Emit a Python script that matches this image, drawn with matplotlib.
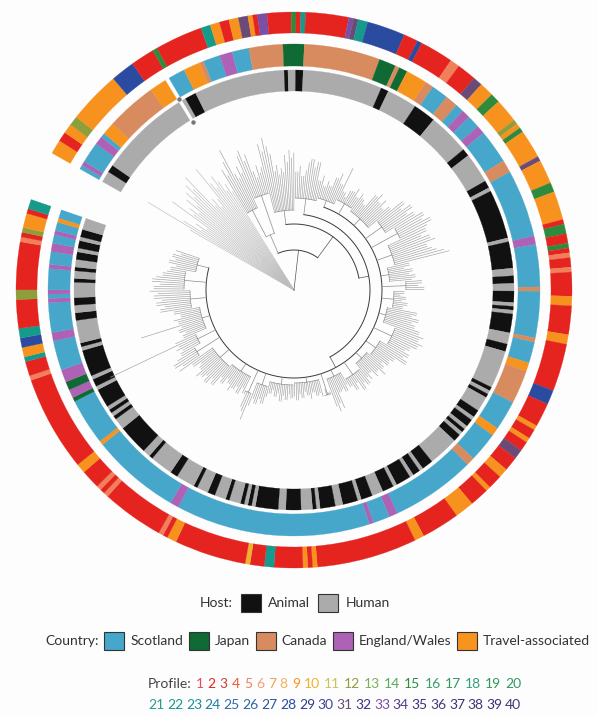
import numpy as np
import matplotlib
matplotlib.use("Agg")
import matplotlib.pyplot as plt
from matplotlib.patches import Wedge, Rectangle

# ---- ring data: runs of (value, number of leaves), read clockwise
# starting at the upper-left end of the gap in the rings
profile_runs = [(9,3),(2,2),(9,2),(12,2),(9,11),(28,5),(2,5),(15,1),(2,10),(22,2),
    (9,2),(2,2),(9,2),(31,2),(9,1),(2,1),(33,2),(2,5),(15,1),(2,1),(22,1),(2,9),
    (33,1),(31,1),(22,2),(28,8),(2,3),(28,1),(2,7),(5,2),(2,4),(31,2),(9,3),(15,2),
    (9,5),(12,1),(9,1),(15,1),(9,6),(31,1),(9,5),(15,2),(9,6),(2,1),(15,2),(2,2),
    (15,1),(2,1),(5,1),(2,2),(5,1),(2,5),(9,2),(2,6),(9,2),(2,10),(28,3),(2,5),
    (9,1),(2,2),(9,1),(2,2),(31,2),(2,3),(9,2),(2,3),(9,1),(2,4),(9,4),(2,8),(9,2),
    (2,21),(9,1),(2,1),(9,1),(2,6),(22,2),(2,3),(10,1),(2,15),(9,2),(2,1),(5,1),
    (2,13),(5,1),(2,1),(5,1),(2,4),(9,2),(2,20),(5,1),(2,3),(22,1),(9,2),(28,2),
    (22,2),(2,6),(12,2),(2,10),(5,1),(2,1),(12,1),(9,3),(2,1),(22,2)]

country_runs = [("S",1),("E",1),("S",5),("E",2),("S",1),("T",3),("C",12),("T",4),
    ("X",1),("S",4),("T",4),("C",1),("S",4),("E",3),("S",4),("C",8),("J",5),("C",18),
    ("J",4),("C",1),("J",2),("T",5),("C",2),("S",4),("C",3),("S",2),("E",2),("S",3),
    ("E",2),("S",8),("C",3),("S",16),("E",2),("S",10),("C",1),("S",11),("C",1),("S",5),
    ("T",2),("C",8),("S",7),("T",2),("S",7),("C",2),("S",20),("E",2),("S",4),("E",1),
    ("S",46),("E",2),("S",21),("T",1),("S",11),("J",1),("E",2),("J",2),("E",3),("S",7),
    ("E",2),("S",7),("E",1),("S",1),("E",1),("S",5),("E",1),("S",3),("E",2),("S",2),
    ("E",1),("S",2),("T",1),("S",2)]

host_runs = [("H",3),("A",2),("H",24),("X",1),("H",1),("A",3),("H",24),("A",1),("H",2),
    ("A",2),("H",21),("A",2),("H",8),("A",6),("H",11),("A",2),("H",8),("A",2),("H",1),
    ("A",13),("H",1),("A",7),("H",2),("A",2),("H",2),("A",3),("H",1),("A",1),("H",1),
    ("A",5),("H",3),("A",2),("H",10),("A",1),("H",1),("A",1),("H",4),("A",2),("H",1),
    ("A",2),("H",1),("A",1),("H",1),("A",2),("H",8),("A",3),("H",1),("A",2),("H",1),
    ("A",4),("H",1),("A",3),("H",3),("A",3),("H",1),("A",4),("H",2),("A",4),("H",1),
    ("A",1),("H",3),("A",4),("H",2),("A",6),("H",1),("A",1),("H",1),("A",1),("H",3),
    ("A",1),("H",3),("A",2),("H",3),("A",1),("H",5),("A",2),("H",6),("A",1),("H",2),
    ("A",8),("H",3),("A",1),("H",1),("A",1),("H",1),("A",5),("H",1),("A",2),("H",1),
    ("A",7),("H",1),("A",1),("H",6),("A",2),("H",2),("A",2),("H",4),("A",1),("H",2),
    ("A",1),("H",2),("A",2),("H",1),("A",2),("H",1),("A",2),("H",3)]

host_names = {"A": "Animal", "H": "Human"}
country_names = {"S": "Scotland", "J": "Japan", "C": "Canada",
                 "E": "England/Wales", "T": "Travel-associated"}
profiles = list(range(1, 41))

# ---- tree: tip distance from root (runs of leaves) and clades (first, last leaf, node depth)
tip_runs = [
    # upper-left fan from the root
    (1,120),(1,170),(1,130),(1,110),(1,118),(1,106),(1,150),(1,125),(1,132),(1,122),(1,140),
    (1,128),(1,145),(1,136),(1,150),(1,142),(1,156),(1,115),(1,122),(1,110),(1,118),(1,155),
    (1,135),(1,128),(1,140),(1,132),(1,120),(1,126),(1,116),
    (1,140),(1,132),(1,146),(1,158),(1,130),(1,124),(1,136),(1,128),(1,145),(1,150),(1,138),
    (1,144),(1,125),(1,118),(1,130),(1,122),(1,127),
    (1,150),(1,142),(1,155),(1,146),(1,138),(1,120),(1,126),(1,116),(1,122),(1,118),(1,135),
    (1,128),(1,140),(1,132),(1,137),
    (2,118),(1,124),(2,114),(1,120),(1,128),(2,132),(1,124),(2,130),(2,112),(1,118),(2,108),
    (1,114),(2,110),(2,120),(1,126),(2,116),(1,135),(2,110),(1,106),(1,114),
    (2,115),(1,120),(2,112),(1,118),(2,114),(2,110),(2,125),(1,130),(2,122),(1,128),(2,120),
    (2,126),(2,140),(1,134),(2,144),(1,136),(2,142),(2,150),(1,146),(2,154),(1,148),(2,145),
    (1,138),(2,146),(1,150),(2,140),(1,144),(1,148),(1,155),(1,160),
    (2,118),(1,112),(2,120),(1,116),(2,122),(1,118),(2,128),(1,124),(2,130),(2,110),(1,106),
    (2,112),(1,108),(2,114),(2,110),
    (2,125),(1,120),(2,128),(1,122),(2,126),(2,132),(1,138),(2,134),(1,140),(2,136),(2,130),
    (1,126),(2,132),(1,128),(2,134),(2,122),(1,118),(2,120),(1,114),(2,118),(1,124),(2,116),
    (1,120),(2,112),(1,118),(1,114),
    (2,120),(1,116),(2,122),(1,112),(2,118),(2,112),(1,108),(2,114),(1,110),(2,112),(1,128),
    (1,122),(1,130),(1,124),(2,108),(1,104),(2,110),(1,106),(2,108),(2,104),(1,110),(2,106),
    (1,102),(2,108),(1,104),(2,110),(1,106),
    (2,108),(1,104),(2,110),(1,106),(2,112),(1,104),(2,108),(1,102),(2,106),(1,110),(2,118),
    (1,114),(2,120),(1,116),(1,124),(1,140),(1,132),(1,128),(2,115),(1,110),(2,118),(1,112),
    (2,116),(1,120),(2,114),(1,110),(2,118),(1,113),
    (2,125),(1,120),(2,128),(1,122),(2,126),(1,130),(2,122),(1,118),(2,126),(1,140),(1,134),
    (2,142),(1,136),(2,130),(1,126),(1,132),(1,128),
    (1,203),
    (1,130),(2,120),(1,116),(2,122),(1,118),(1,160),(2,120),(1,124),(2,116),(2,122),
    (2,135),(1,130),(2,138),(1,132),(2,140),(1,136),(1,144),(2,140),(1,134),(2,142),(1,138),
    (2,132),(1,128),(2,125),(1,120),(2,128),(1,122),(2,126),(1,118),(1,124)]

clade_first = [29, 29, 29, 37, 46, 46, 61, 61, 75, 75, 86, 96, 111, 119, 125, 137, 146, 151,
               161, 171, 181, 191, 201, 211, 221, 225, 241, 256, 263, 267, 281, 296, 301,
               307, 321, 331, 341]
clade_last = [349, 45, 36, 45, 349, 60, 349, 74, 349, 85, 95, 110, 118, 124, 136, 145, 150,
              160, 170, 180, 190, 200, 210, 220, 224, 240, 255, 262, 266, 280, 295, 300,
              306, 320, 330, 340, 349]
clade_depth = [40, 60, 90, 100, 66, 80, 76, 92, 88, 95, 100, 97, 108, 118, 104, 96, 112, 100,
               95, 108, 100, 96, 103, 95, 110, 93, 95, 100, 112, 97, 100, 115, 108, 96, 104,
               110, 100]

# ---- styles
profile_colors = ['#E8485F', '#E5231F', '#C8413C', '#EE5A2E', '#F07F5A', '#F4A071', '#EFA15B',
    '#F5B063', '#F7921E', '#EDB12F', '#C9C35C', '#8E9E3A', '#7DAF5C', '#5AA85A', '#2E8B3E',
    '#3A9E6E', '#2F9A60', '#349E78', '#2E9A5A', '#2F9868', '#25A08A', '#169A8C', '#1D8FA0',
    '#1F7FA6', '#2A6EA8', '#2E66A6', '#2F55A0', '#2A4BA0', '#2E3F88', '#3A4596', '#6B4A78',
    '#3A3580', '#7A4FA6', '#5A3A8E', '#3E3478', '#4A3680', '#3E3276', '#453478', '#3C3070',
    '#473472']
country_colors = {"S": '#46A7CB', "J": '#0F6A33', "C": '#D88B5E', "E": '#AD62B6', "T": '#F7941E'}
host_colors = {"A": '#111111', "H": '#ABABAB'}

W, H = 597, 715
CX, CY = 294, H - 290
START, SPAN = 150.5, 349.5
N = sum(n for _, n in host_runs)
step = SPAN / N

fig = plt.figure(figsize=(W / 100, H / 100), dpi=100)
fig.patch.set_facecolor('#fdfdfd')
ax = fig.add_axes([0, 0, 1, 1])
ax.set_xlim(0, W)
ax.set_ylim(0, H)
ax.axis('off')


def angle(i):
    return START - (i + 0.5) * step


def polar(r, a):
    a = np.radians(a)
    return CX + r * np.cos(a), CY + r * np.sin(a)


def draw_ring(runs, colors, r_in, r_out):
    i = 0
    for code, n in runs:
        if code != "X":
            c = colors[code]
            ax.add_patch(Wedge((CX, CY), r_out, START - (i + n) * step, START - i * step,
                               width=r_out - r_in, facecolor=c, edgecolor=c, lw=0.2))
        i += n


draw_ring(host_runs, host_colors, 199, 220)
draw_ring(country_runs, country_colors, 224, 246)
draw_ring(profile_runs, {p: profile_colors[p - 1] for p in profiles}, 257, 278)

# missing-data marks
i = 0
for code, n in host_runs:
    if code == "X":
        for r in (196, 223):
            x, y = polar(r, angle(i))
            ax.plot(x, y, 'o', ms=2.2, color='#777777')
    i += n

# ---- tree (root at the centre, node angle = mean of its children)
tips = np.repeat([r for _, r in tip_runs], [n for n, _ in tip_runs])
clades = [(0, N - 1, 0)] + list(zip(clade_first, clade_last, clade_depth))


def parent_of(k):
    f, l, d = clades[k]
    best = None
    for j, (f2, l2, d2) in enumerate(clades):
        if j != k and f2 <= f and l2 >= l and d2 < d:
            if best is None or d2 > clades[best][2]:
                best = j
    return best


parents = [parent_of(k) for k in range(len(clades))]
leaf_owner = []
for i in range(N):
    own = 0
    for k, (f, l, d) in enumerate(clades):
        if f <= i <= l and d >= clades[own][2]:
            own = k
    leaf_owner.append(own)

node_angle = {}
child_angles = {}
for k in sorted(range(len(clades)), key=lambda k: -clades[k][2]):
    angs = [angle(i) for i in range(N) if leaf_owner[i] == k]
    angs += [node_angle[j] for j in range(len(clades)) if parents[j] == k]
    child_angles[k] = angs
    node_angle[k] = float(np.mean(angs))

for i in range(N):
    a = angle(i)
    r0 = clades[leaf_owner[i]][2]
    x0, y0 = polar(r0, a)
    x1, y1 = polar(tips[i], a)
    ax.plot([x0, x1], [y0, y1], color='#bdbdbd' if r0 < 10 else '#a0a0a0', lw=0.45)

for k, (f, l, d) in enumerate(clades):
    if k == 0:
        continue
    big = (l - f) > 100
    a = np.linspace(min(child_angles[k]), max(child_angles[k]), 200)
    xs, ys = polar(d, a)
    ax.plot(xs, ys, color='#3a3a3a' if big else '#8c8c8c', lw=0.7 if big else 0.45)
    x0, y0 = polar(clades[parents[k]][2], node_angle[k])
    x1, y1 = polar(d, node_angle[k])
    ax.plot([x0, x1], [y0, y1], color='#555555' if big else '#8c8c8c', lw=0.5)

# ---- legend
FS = 10
FONT = 'Lato'
renderer = fig.canvas.get_renderer()


def flow(items, x_start, x_end, y):
    # lay out a row of labels/boxes, spreading the spare room evenly between items
    made = []
    for kind, val, col in items:
        if kind == 'box':
            made.append((kind, None, 20))
        else:
            t = ax.text(0, y, val, color=col, fontsize=FS, family=FONT, va='center', ha='left')
            made.append((kind, t, t.get_window_extent(renderer).width))
    gap = (x_end - x_start - sum(w for _, _, w in made)) / (len(made) - 1)
    x = x_start
    for (kind, t, w), (_, _, col) in zip(made, items):
        if kind == 'box':
            ax.add_patch(Rectangle((x, y - 9), 20, 18, facecolor=col, edgecolor='#333333', lw=0.8))
        else:
            t.set_x(x)
        x += w + gap


flow([('label', 'Host:', '#333333'),
      ('box', None, host_colors['A']), ('label', host_names['A'], '#333333'),
      ('box', None, host_colors['H']), ('label', host_names['H'], '#333333')], 200, 390, H - 603)

row = [('label', 'Country:', '#333333')]
for code in ["S", "J", "C", "E", "T"]:
    row += [('box', None, country_colors[code]), ('label', country_names[code], '#333333')]
flow(row, 45, 590, H - 641)

flow([('label', 'Profile:', '#444444')] +
     [('num', str(p), profile_colors[p - 1]) for p in profiles[:20]], 148, 521, H - 684)
flow([('num', str(p), profile_colors[p - 1]) for p in profiles[20:]], 148, 521, H - 705)

fig.savefig('out.png', dpi=100, facecolor=fig.get_facecolor())
